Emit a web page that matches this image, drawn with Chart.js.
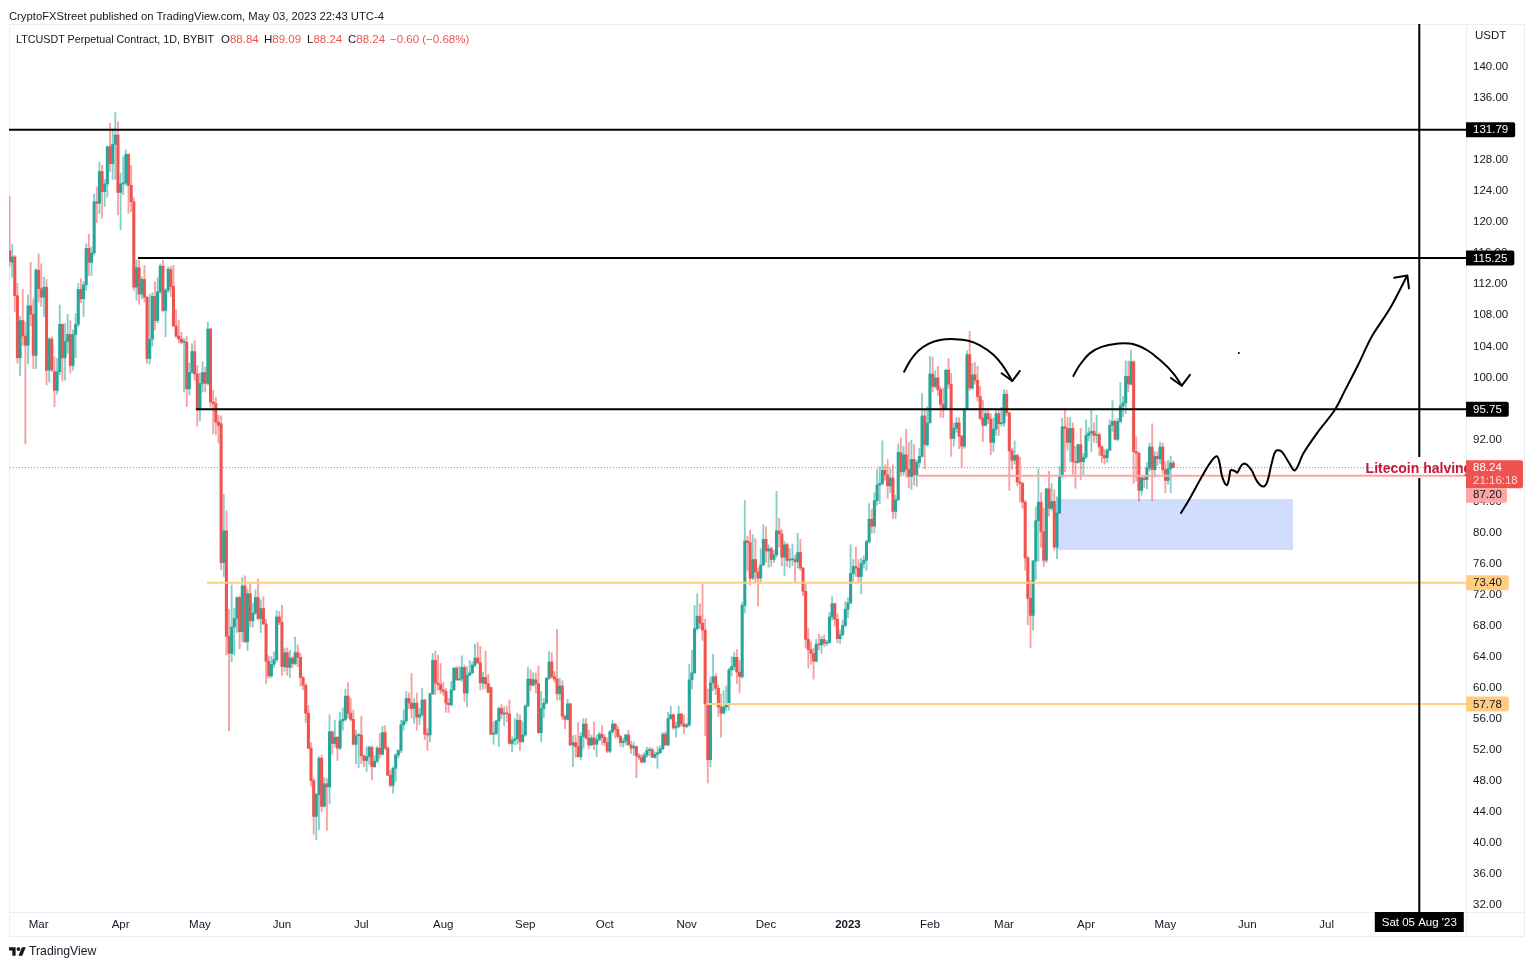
<!DOCTYPE html>
<html>
<head>
<meta charset="utf-8">
<title>LTCUSDT Perpetual Contract</title>
<script src="https://cdn.jsdelivr.net/npm/chart.js@4"></script>
<style>
    html, body { margin: 0; background: #fff; }
    body { width: 1536px; height: 967px; position: relative; overflow: hidden; font-family: "Liberation Sans", sans-serif; color: #131722; }
    canvas { position: absolute; left: 0; top: 0; }
    .txt { position: absolute; font-size: 11.5px; line-height: 14px; white-space: nowrap; }
    .red { color: #ef5350; }
</style>
</head>
<body>
<canvas id="chart-ltc" width="1536" height="967"></canvas>
<div class="txt" style="left:9px;top:9px;font-size:11.25px">CryptoFXStreet published on TradingView.com, May 03, 2023 22:43 UTC-4</div>
<div class="txt" style="left:16px;top:32px;font-size:10.75px">LTCUSDT Perpetual Contract, 1D, BYBIT</div>
<div class="txt" style="left:221px;top:32px">O<span class="red">88.84</span></div>
<div class="txt" style="left:264px;top:32px">H<span class="red">89.09</span></div>
<div class="txt" style="left:307px;top:32px">L<span class="red">88.24</span></div>
<div class="txt" style="left:348px;top:32px">C<span class="red">88.24</span></div>
<div class="txt red" style="left:390px;top:32px">−0.60 (−0.68%)</div>
<svg style="position:absolute;left:9px;top:945px" width="17" height="12" viewBox="0 0 36 24"><path fill="#131722" d="M14 22H7V11H0V4h14v18zM28 22h-8l7.5-18h8L28 22z"/><circle fill="#131722" cx="20" cy="8" r="4"/></svg>
<div class="txt" style="left:29px;top:944px;font-size:12.25px">TradingView</div>
<script>
"use strict"

// daily candles, one value per day from the left edge
var opens = [
    116.2,114.7,115.4,110.4,102.4,107.2,105.2,104,109.1,108,
    102.7,113.7,111.3,110.2,111.5,100.8,104.8,100.6,98.2,100.6,
    106.7,102.4,104.5,105.4,101.4,105.4,106.7,111.2,110,111.8,
    116.5,114.7,115.9,122.5,122.3,126.4,123.8,124.8,129.6,127.4,
    129.9,131.1,123.7,124.8,124.9,128.6,124.6,122.5,111.5,114,
    110.6,112.5,110.2,102.3,104.8,110.3,107.2,110.9,114.2,108.5,
    111.1,113.8,111.6,106.5,105.2,104.8,104.4,104.4,98.4,100.5,
    103.2,100.3,95.7,99.1,100.5,99.1,106.1,96.7,96.5,94.1,
    93.9,76,80.1,66.5,64.3,67.7,68.8,71.5,67.1,73,
    65.8,72,68.5,69.5,71.5,68.8,70.1,68.1,63.3,61.4,
    62.9,63.5,69,68.3,62.6,64.4,62.5,63.7,63,64.4,
    63.8,61.2,60.2,56.6,52.1,47.9,43.3,46.1,50.8,44.6,
    47.5,47.1,54.2,52.7,53.5,52.1,55.6,55.8,58.8,56.6,
    55.8,52.6,53.7,53.8,51.1,50.5,51,52.2,49.7,50.4,
    52.1,51.3,54.1,52.1,48.6,47.3,49.5,51.2,51.8,55.1,
    55.6,58.5,57.9,57.2,57.9,56.1,56.4,58.3,53.9,53.8,
    59.1,63.4,60.5,60.3,59.6,59.4,57.9,57.7,59.6,62.4,
    60.9,61,62.5,59.2,61.5,61.8,62.8,63.7,63.1,60.5,
    61.2,60.4,59.9,53.9,54,55.6,57.2,56.5,56.6,56.5,
    52.7,53.1,53.3,55.7,52.9,53.8,57.5,61,60.2,60.9,
    60.4,54.1,57.2,57.9,61.1,63.2,61.3,61,59.1,60.1,
    56.2,55.8,57.8,52.5,52.8,52.3,51,53.6,55.2,53.4,
    52.5,53.4,52.6,53.2,53.9,53.5,52.8,51.7,54.2,55.2,
    54.5,53.6,52.8,53,53.8,52.5,52.1,52.3,51.1,50.9,
    50.3,51.2,51.8,51.9,50.9,51.3,51.5,52,53.9,52.5,
    55.9,56.4,54.7,54.9,56.5,55.2,54.9,55.1,60.9,61.8,
    67.5,69.1,68.2,67.3,57.8,50.6,60.5,61.3,59.8,57.4,
    56.6,57.4,57.8,62.2,62.6,63.8,61.9,61.3,70.5,78.8,
    78.6,74,76.4,74.8,74,75.7,79,77.5,77.8,76.4,
    77,80.1,79.7,76.7,78.3,76.3,76.4,76.4,76.1,77.3,
    75.3,72.3,66.1,64.8,64.3,63.3,65.5,65.4,66.1,65.6,
    65.7,69,70.7,68.7,66.2,66.7,67.9,70,70.8,74.6,
    75.5,75.3,74.2,75.9,76.3,78.7,81.6,80.7,84,86,
    86.2,87.9,87.3,85.9,86.9,82.6,84.1,90.2,87.7,89.9,
    88,87.1,89.3,87.3,88.9,89.7,94.9,91.2,94,100.3,
    98.7,99.8,98.3,96.4,95.8,100.8,99,92,93.3,94,
    92.3,91,95.8,102.8,98.5,100.2,99.5,97.4,94.6,93.7,
    95.2,94.5,91.5,93.2,95.2,93.9,94,97.7,95.3,90.4,
    89.2,89.8,86.4,86.2,83.8,76.6,71.4,69.2,76.2,81.4,
    83.8,80,76.3,85.5,83,83.9,78,82.4,87.1,93.5,
    93.3,91.5,93.3,89,88.9,91.2,89,89.6,92.4,92.7,
    92.9,92.4,92.5,90.9,89.8,89.5,90.5,93.7,94.2,91.9,
    94.2,96.2,96.6,100,99,101.9,90.3,90.1,85.3,86.9,
    86.7,88.2,90.9,88,89.7,89.4,90.9,88,86.6,88.1,
    88.84
]
var highs = [
    123.2,117,115.6,112,107.7,111.2,107,110.5,114.7,110,
    113.9,115.8,114.5,112.8,112.5,105,105.1,102.5,102.3,109.2,
    106.8,106.8,108,107.2,106,108.1,112,112.6,112.2,117.1,
    118.3,116.7,123.5,124.4,127.6,127.2,125.4,129.7,132.6,131.9,
    134,132.8,126.2,128.3,129.2,128.7,127.2,123,115,115,
    112.8,114.3,110.3,110.6,110.8,112.2,112.7,114.5,115,111.3,
    114.1,114.2,114.3,108.6,107.2,105.7,104.9,105.2,101.7,104.2,
    104.6,101.4,100.4,101.9,101.2,107,106.2,98.2,97.3,95,
    94.9,84.8,82.7,70,73.1,70.1,71.6,71.7,74.1,74.3,
    72.6,73.3,70.8,72.5,73.9,71.2,71.6,68.7,64,63.9,
    64.5,69.8,69.7,70.5,65,65,64.7,63.9,66.4,65.4,
    64.3,61.3,60.4,57.6,52.8,48.2,46.3,51,51.2,48.3,
    48.2,56.4,54.3,55.7,53.6,56.7,57.3,59.7,60.5,58.5,
    57,54.4,54,56.2,51.2,52.3,52.4,52.4,51.2,52.3,
    54,54.9,55,52.3,49.3,49.7,51.4,51.9,55.7,57,
    59.4,59.2,61.7,58.5,59.2,57.2,59.8,58.4,54.6,59.2,
    64.3,64.6,64.1,63,60.6,59.8,58.5,60.7,62.5,62.6,
    62.6,64,62.8,62.6,63.4,63.2,65.5,65.7,65.2,61.9,
    64.6,61.6,60,55.5,55.7,57.4,57.7,57.4,57.5,58.3,
    53.6,55.9,56.6,56.4,55.5,57.7,62.5,62.2,61.8,61.8,
    62.7,59.4,58.5,61.2,64.6,64.4,62,67.4,61.1,60.8,
    56.4,58.4,57.9,53.7,53.8,55.4,54.1,55.9,55.9,54.4,
    53.8,55.5,53.8,54.1,55,53.8,53.4,54.4,55.7,55.3,
    54.9,53.8,53.4,53.9,54.4,53,52.9,52.4,51.4,51.3,
    51.5,52.2,52.2,52.1,51.6,52.3,52.4,54.1,54.2,56.7,
    57.5,56.5,55.5,57.5,56.6,56.4,55.3,62.9,64.7,70.5,
    72,70.7,73.2,68.7,59.7,61.3,64.2,61.7,60.2,59.1,
    59.5,60.1,62.4,63.9,64.4,64.8,63.4,70.9,84,79.4,
    80.2,79.6,79.1,75.3,77.8,80.9,80.6,78.3,78,77.6,
    85.2,81.7,80.3,78.7,78.5,77.8,78.4,77,79.8,79,
    75.4,73.5,67.5,65.8,65,66.1,66.8,66.5,66.7,66,
    69.6,71.6,70.8,69.4,67.3,68.6,71,71.5,78.3,76.4,
    78,76.4,76.6,76.9,78.9,83.6,82.9,85,88,88.4,
    91.7,88.6,89.3,88.1,88.6,84.7,91.3,92.1,91,93.2,
    91.5,91.8,91.2,89.2,90.7,97.8,95.8,96.1,102.6,102.5,
    100.7,101.3,98.7,98.5,100.9,102.3,100.4,94,94.7,94.7,
    92.4,95.9,103.3,105.8,101.7,101.8,101.3,98.7,96.9,95.9,
    95.9,95.2,94.6,95.7,95.7,96,98.3,98.2,95.4,90.7,
    91.7,90,89.6,86.4,84,76.8,73.7,76.3,83.2,88.1,
    85,83,85.6,87.8,86.2,85.4,84.5,88.4,94.6,95.9,
    94.7,94.7,94,91,91.3,93.3,90.1,94.4,93.4,95.7,
    94,95,92.7,91.1,90.6,90.7,94.4,96.9,94.4,94.6,
    99.2,97.4,102,102,103.4,102,92.2,90.2,87.1,87.1,
    88.9,91.4,93.9,90.3,90.3,91.5,91.4,89,89.2,89.7,
    89.09
]
var lows = [
    114.1,112.8,108.3,101.7,100.1,104,91.3,101.6,106.5,101,
    101,109.6,109,107.7,98.9,99.3,100.6,96.1,97.7,100.2,
    99.4,99.5,103,100.4,100.8,102.4,106.4,109.5,107.7,111.1,
    113,113,115.6,119.8,121,120.4,121.9,123.1,126.4,125.4,
    125.4,120.8,118.9,123.4,124.6,121,121.2,111.1,109.8,109.3,
    110,109.6,101.7,101.6,103.9,106,106.9,110.7,108.3,105.1,
    110.8,110.3,106.4,105,104.3,104.2,98,96.1,97.6,100.4,
    99.5,93.6,94.3,98,98,98.9,96,92.6,92.5,91.4,
    75.1,74.2,64.1,54.3,63.2,64.1,67,64.9,65.8,65.7,
    64.7,67.7,67.7,69.3,68.6,67,68,60.4,61.1,61.2,
    62.5,63.2,68,61.5,62,61.5,61.2,62.5,62.8,62.6,
    60.1,59.6,55.4,52,47.2,41,40.3,41.6,43.9,44.5,
    41.5,44.9,51.3,52.2,50.5,51.9,54.4,55.6,56,55.6,
    52.5,50.1,49.6,50.1,49.7,49.1,50,48,49.6,50.2,
    50.8,51.2,51.9,48.6,47.1,46.3,47.8,50.8,51.5,54.4,
    55.3,57.2,56,55.3,54.4,55.1,56.2,53.2,51.8,52.9,
    59,59,59.6,59.1,58.9,56.7,56.7,57.5,59.5,60.8,
    60.8,60.7,58.1,57.4,61.4,61.7,62.6,63,59.6,59.7,
    59.8,59.2,53.8,52.6,53.8,52.3,55.9,55,55.5,52.6,
    51.6,52.5,52.6,51.8,52.9,53.6,57.4,59.5,60.1,59.2,
    54,52.9,56,57.8,60.9,61.1,60.6,58.3,58.3,55.8,
    54.6,55.7,52.4,49.7,50.9,50.9,50.6,52.1,53.2,52,
    52.4,51.9,51,53,52.5,52.4,51.5,51.5,54,53.4,
    53.4,52.3,52.2,52.5,52.5,51.4,51.2,48.3,50.6,50.2,
    50.2,50.9,51.1,50.9,50.8,49.5,51.4,51.9,52.4,52.4,
    55.8,54.5,53.5,54.7,54.9,54,54.7,54.9,59.7,61.7,
    67.3,67.5,66,53.7,47.6,49.7,59.5,59,56.2,53.5,
    56.5,56.9,57,61.4,62.1,60.4,59.2,61.1,69.5,75,
    73.1,73.8,73.5,70.4,73.4,75.6,76,75.4,75.5,76,
    76.7,78,75.6,74.3,75.5,75.3,75.6,73.5,75.3,75,
    71.7,65,62.4,62.9,61,63.2,64.7,64.3,65.2,65.3,
    65.6,68.6,67.8,65.7,65.6,66.6,67.7,68.9,70.7,73.5,
    74.2,73.5,72,75.3,75,78.5,79.8,79.8,83.4,83.6,
    86,86.6,84.3,85,81.7,81.7,84,87.1,87.2,87,
    85.7,85.4,86,85.8,88.4,89.6,88.1,91,94,98,
    98.5,97.5,94.7,94.7,95.7,98.5,89.7,91,92.8,90.7,
    88.3,90.7,95.7,98.2,98.3,99,96.8,94.4,91.6,93.6,
    93.9,89.9,90.3,92.4,92.4,93.6,93.6,94.9,85.3,88,
    88.7,85.9,83.8,83,75,68,65,67.3,73.8,76.2,
    78,75.5,76,82,82.7,77.6,76.5,82.3,87,87.7,
    90.5,89,87.4,85.6,88.8,86.7,87.3,89.4,91.7,90.3,
    91.5,91.4,89.8,88.9,88.7,88.9,90.4,92.9,91.8,91.7,
    94,94.8,95.2,98,98.9,86.2,86.5,83.9,84.7,85.7,
    85.5,87.8,84,87,88.5,88.8,87.5,85,86.1,85,
    88.24
]
var closes = [
    114.8,115.4,110.4,102.4,107.2,105.2,104,109.1,108,102.7,
    113.7,111.3,110.2,111.5,100.8,104.8,100.8,98.2,100.6,106.7,
    102.4,104.5,105.4,101.4,105.4,106.7,111.2,110,111.8,116.5,
    114.7,115.9,122.5,122.3,126.4,123.8,124.8,129.6,127.4,129.9,
    131.1,123.7,124.8,124.9,128.6,124.6,122.5,111.5,114,110.6,
    112.5,110.2,102.3,104.8,110.3,107.2,110.9,114.2,108.5,111.1,
    113.8,111.6,106.5,105.2,104.8,104.4,104.4,98.4,100.5,103.2,
    100.3,95.7,99.1,100.5,99.1,106.1,96.7,96.5,94.1,93.7,
    76,80.1,66.5,64.3,67.7,68.8,71.5,67.1,73,65.8,
    72,68.5,69.5,71.5,68.8,70.1,68.1,63.3,61.4,62.9,
    63.5,69,68.3,62.6,64.4,62.5,63.7,63,64.4,63.8,
    61.2,60.2,56.6,52.1,47.9,43.3,46.1,50.8,44.6,47.5,
    47.1,54.2,52.7,53.5,52.1,55.6,55.8,58.8,56.6,55.8,
    52.6,53.7,53.8,51.1,50.5,51,52.2,49.7,50.4,52.1,
    51.3,54.1,52.1,48.6,47.3,49.5,51.2,51.8,55.1,55.6,
    58.5,57.9,57.2,57.9,56.1,56.4,58.3,53.9,53.8,59.1,
    63.4,60.5,60.3,59.6,59.4,57.9,57.7,59.6,62.4,60.9,
    61,62.5,59.2,61.5,61.8,62.8,63.7,63.1,60.5,61.2,
    60.4,59.3,53.9,54,55.6,57.2,56.5,56.6,56.5,52.7,
    53.1,53.3,55.7,52.9,53.8,57.5,61,60.2,60.9,60.4,
    54.1,57.2,57.9,61.1,63.2,61.3,61,59.1,60.1,56.2,
    55.8,57.8,52.5,52.8,52.3,51,53.6,55.2,53.4,52.5,
    53.4,52.6,53.2,53.9,53.5,52.8,51.7,54.2,55.2,54.5,
    53.6,52.8,53,53.8,52.5,52.1,52.3,51.1,50.9,50.3,
    51.2,51.8,51.9,50.9,51.3,51.5,52,53.9,52.5,55.9,
    56.4,54.7,54.9,56.5,55.2,54.9,55.1,60.9,61.8,67.5,
    69.1,68.2,67.3,57.8,50.6,60.5,61.3,59.8,57.4,56.6,
    57.4,57.8,62.2,62.6,63.8,61.9,61.3,70.5,78.8,78.6,
    74,76.4,74.8,74,75.7,79,77.5,77.8,76.4,77,
    80.1,79.7,76.7,78.3,76.3,76.4,76.4,76.1,77.3,75.3,
    72.3,66.1,64.8,64.3,63.3,65.5,65.4,66.1,65.6,65.7,
    69,70.7,68.7,66.2,66.7,67.9,70,70.8,74.6,75.5,
    75.3,74.2,75.9,76.3,78.7,81.6,80.7,84,86,86.2,
    87.9,87.3,85.9,86.9,82.6,84.1,90.2,87.7,89.9,88,
    87.1,89.3,87.3,88.9,89.7,94.9,91.2,94,100.3,98.7,
    99.8,98.3,96.4,95.8,100.8,99,92,93.3,94,92.3,
    91,95.8,102.8,98.5,100.2,99.5,97.4,94.6,93.7,95.2,
    94.5,91.5,93.2,95.2,93.9,94,97.7,95.3,90.4,89.2,
    89.8,86.4,86.2,83.8,76.6,71.4,69.2,76.2,81.4,83.8,
    80,76.3,85.5,83,83.9,78,82.4,87.1,93.5,93.3,
    91.5,93.3,89,88.9,91.2,89,89.6,92.4,92.7,92.9,
    92.4,92.5,90.9,89.8,89.5,90.5,93.7,94.2,91.9,94.2,
    96.2,96.6,100,99,101.9,90.3,90.1,85.3,86.9,86.7,
    88.2,90.9,88,89.7,89.4,90.9,88,86.6,88.1,88.84,
    88.24
]

var tickDays = [11, 42, 72, 103, 133, 164, 195, 225, 256, 286, 317, 348, 376, 407, 437, 468, 498]
var tickLabels = ['Mar', 'Apr', 'May', 'Jun', 'Jul', 'Aug', 'Sep', 'Oct', 'Nov', 'Dec', '2023', 'Feb', 'Mar', 'Apr', 'May', 'Jun', 'Jul']
var priceTicks = [32, 36, 40, 44, 48, 52, 56, 60, 64, 68, 72, 76, 80, 84, 88, 92, 96, 100, 104, 108, 112, 116, 120, 124, 128, 132, 136, 140]

// the levels drawn on the chart: from which day, at which price
var blackDays = [-1, 48.6, 70.5]
var blackPrices = [131.79, 115.25, 95.75]
var orangeDays = [74.7, 263.3]
var orangePrices = [73.4, 57.78]
var supportDay = 343
var supportPrice = 87.2
var lastPrice = 88.24
var crosshairDay = 533
var zoneDays = [396, 485.3]
var zoneTop = 84.2
var zoneBottom = 77.63

// pen strokes, in days and prices
var arcOneDays = [338.2, 340.5, 343.6, 347.4, 351.8, 357.5, 362.5, 366.9, 372, 375.7, 379.1]
var arcOnePrices = [100.6, 102, 103.3, 104.2, 104.7, 104.8, 104.6, 104, 102.8, 101.3, 99.4]
var headOneDays = [375.1, 379.1, 382]
var headOnePrices = [100.4, 99.4, 100.7]
var arcTwoDays = [402.2, 404.7, 408.5, 412.9, 418.6, 424.3, 430, 435, 440, 443.2]
var arcTwoPrices = [100.05, 101.5, 103, 103.8, 104.2, 104.2, 103.4, 102.1, 100.4, 98.8]
var headTwoDays = [439.1, 443.2, 446.3]
var headTwoPrices = [99.8, 98.8, 100.2]
var pathDays = [442.9, 446.3, 450, 453.8, 456.4, 457.4, 458.3, 459.5, 460.4, 461.2, 461.7, 463.3, 464.2, 465.9, 467.5, 469.6, 471.8, 474, 475.5, 477.2, 478.8, 481, 483.5, 486, 489.2, 494.8, 501.1, 504.9, 509.9, 515, 522, 528.2]
var pathPrices = [82.4, 84.3, 86.6, 88.8, 89.7, 89, 87.3, 86.2, 86, 87.1, 87.9, 87.8, 87.6, 88.6, 88.7, 87.9, 86.4, 85.8, 86.4, 88.8, 90.4, 90.3, 89, 87.9, 90.1, 92.9, 95.7, 98.2, 101.5, 105.1, 108.8, 112.85]
var pathHeadDays = [523.5, 528.5, 529.1]
var pathHeadPrices = [112.7, 113, 111.35]
var dotDay = 464.8
var dotPrice = 103

var UP = '#26a69a'
var DOWN = '#ef5350'
var dayMin = -0.19
var dayMax = 550.66
var priceMin = 30.98
var priceMax = 145.41

function pairs(days, prices) {
    return days.map(function (d, i) { return { x: d, y: prices[i] } })
}

function level(day, price, color, width, dash) {
    return {
        type: 'line',
        data: [{ x: day, y: price }, { x: dayMax, y: price }],
        borderColor: color,
        borderWidth: width,
        borderDash: dash || [],
        pointRadius: 0,
        order: 4
    }
}

function stroke(days, prices, tension) {
    return {
        type: 'line',
        data: pairs(days, prices),
        borderColor: '#000',
        borderWidth: 2,
        tension: tension,
        borderCapStyle: 'round',
        borderJoinStyle: 'round',
        pointRadius: 0,
        order: 1
    }
}

var candleColors = closes.map(function (c, i) { return c >= opens[i] ? UP : DOWN })
var wickColors = closes.map(function (c, i) { return c >= opens[i] ? 'rgba(38,166,154,0.55)' : 'rgba(239,83,80,0.55)' })

var datasets = [
    {
        type: 'bar',
        data: highs.map(function (h, i) { return { x: i, y: [lows[i], h] } }),
        backgroundColor: wickColors,
        barThickness: 1.2,
        grouped: false,
        order: 10
    },
    {
        type: 'bar',
        data: opens.map(function (o, i) { return { x: i, y: [o, closes[i]] } }),
        backgroundColor: candleColors,
        barThickness: 2.4,
        minBarLength: 1,
        grouped: false,
        order: 9
    },
    {
        type: 'line',
        data: pairs(zoneDays, [zoneTop, zoneTop]),
        borderWidth: 0,
        pointRadius: 0,
        backgroundColor: 'rgba(41,98,255,0.22)',
        fill: { value: zoneBottom },
        order: 5
    },
    level(-1, lastPrice, '#ef5350', 1, [1, 2]),
    level(supportDay, supportPrice, '#ffa5a3', 2),
    {
        // the halving label interrupts this line
        type: 'line',
        data: [{ x: crosshairDay, y: priceMax }, { x: crosshairDay, y: 89.6 }, { x: crosshairDay, y: null }, { x: crosshairDay, y: 86.9 }, { x: crosshairDay, y: priceMin }],
        borderColor: '#000',
        borderWidth: 2,
        pointRadius: 0,
        order: 3
    },
    stroke(arcOneDays, arcOnePrices, 0.4),
    stroke(headOneDays, headOnePrices, 0),
    stroke(arcTwoDays, arcTwoPrices, 0.4),
    stroke(headTwoDays, headTwoPrices, 0),
    stroke(pathDays, pathPrices, 0.35),
    stroke(pathHeadDays, pathHeadPrices, 0),
    {
        type: 'line',
        data: [{ x: dotDay, y: dotPrice }],
        pointRadius: 1,
        pointBackgroundColor: '#000',
        borderWidth: 0,
        order: 1
    }
]
blackDays.forEach(function (d, i) { datasets.push(level(d, blackPrices[i], '#000', 2)) })
orangeDays.forEach(function (d, i) { datasets.push(level(d, orangePrices[i], '#ffcc80', 2)) })

function tag(ctx, x, y, w, h, bg) {
    ctx.fillStyle = bg
    ctx.beginPath()
    ctx.roundRect(x, y, w, h, [0, 2, 2, 0])
    ctx.fill()
}

// frame, price tags, the time tag and the text label
var tradingViewLook = {
    id: 'tradingViewLook',
    beforeDraw: function (chart) {
        var a = chart.chartArea
        var ctx = chart.ctx
        ctx.save()
        ctx.strokeStyle = '#eceef3'
        ctx.lineWidth = 1
        ctx.strokeRect(a.left + 0.5, a.top + 0.5, 1524 - a.left, 936 - a.top)
        ctx.beginPath()
        ctx.moveTo(a.right + 0.5, a.top)
        ctx.lineTo(a.right + 0.5, 936)
        ctx.moveTo(a.left, a.bottom + 0.5)
        ctx.lineTo(1524, a.bottom + 0.5)
        ctx.stroke()
        ctx.restore()
    },
    afterDraw: function (chart) {
        var a = chart.chartArea
        var ctx = chart.ctx
        var xs = chart.scales.x
        var ys = chart.scales.y
        var textX = a.right + 7
        ctx.save()
        ctx.font = '11.5px "Liberation Sans"'
        ctx.textBaseline = 'middle'

        ctx.fillStyle = '#131722'
        ctx.fillText('USDT', textX + 2, 36)

        function priceTag(price, bg, fg) {
            var label = price.toFixed(2)
            var y = ys.getPixelForValue(price)
            tag(ctx, a.right, y - 7.5, ctx.measureText(label).width + 14, 15, bg)
            ctx.fillStyle = fg
            ctx.fillText(label, textX, y + 0.5)
        }
        priceTag(blackPrices[0], '#000', '#fff')
        priceTag(blackPrices[1], '#000', '#fff')
        priceTag(blackPrices[2], '#000', '#fff')
        priceTag(orangePrices[0], '#ffcc80', '#131722')
        priceTag(orangePrices[1], '#ffcc80', '#131722')

        var lastY = ys.getPixelForValue(lastPrice)
        tag(ctx, a.right, lastY - 7.5, 57, 28, DOWN)
        ctx.fillStyle = '#fff'
        ctx.fillText(lastPrice.toFixed(2), textX, lastY)
        ctx.fillStyle = '#ffd6d5'
        ctx.fillText('21:16:18', textX, lastY + 13)
        tag(ctx, a.right, lastY + 20.5, 41, 14.5, '#ffa5a3')
        ctx.fillStyle = '#131722'
        ctx.fillText(supportPrice.toFixed(2), textX, lastY + 27.5)

        var crossX = xs.getPixelForValue(crosshairDay)
        var crossLabel = "Sat 05 Aug '23"
        ctx.fillStyle = '#000'
        ctx.fillRect(crossX - 44.5, a.bottom, 89, 20)
        ctx.fillStyle = '#fff'
        ctx.textAlign = 'center'
        ctx.fillText(crossLabel, crossX, a.bottom + 10.5)
        ctx.textAlign = 'left'

        ctx.beginPath()
        ctx.rect(a.left, a.top, a.right - a.left, a.bottom - a.top)
        ctx.clip()
        ctx.font = 'bold 14px "Liberation Sans"'
        ctx.fillStyle = '#c2193a'
        ctx.textBaseline = 'alphabetic'
        ctx.fillText('Litecoin halving', xs.getPixelForValue(512.7), ys.getPixelForValue(lastPrice) + 5.5)
        ctx.restore()
    }
}

var chartLtc = new Chart(document.getElementById('chart-ltc').getContext('2d'), {
    type: 'bar',
    data: { datasets: datasets },
    plugins: [tradingViewLook],
    options: {
        responsive: false,
        animation: false,
        devicePixelRatio: 1,
        layout: { autoPadding: false, padding: { left: 9, top: 24, right: 12, bottom: 31 } },
        plugins: { legend: { display: false }, tooltip: { enabled: false } },
        scales: {
            x: {
                type: 'linear',
                offset: false,
                min: dayMin,
                max: dayMax,
                grid: { display: false, drawTicks: false },
                border: { display: false },
                afterBuildTicks: function (scale) {
                    scale.ticks = tickDays.map(function (d) { return { value: d } })
                },
                afterFit: function (scale) { scale.height = 24 },
                ticks: {
                    autoSkip: false,
                    maxRotation: 0,
                    padding: 6,
                    color: '#131722',
                    font: function (c) {
                        var bold = c.tick && c.tick.label === '2023'
                        return { family: '"Liberation Sans"', size: 11.5, weight: bold ? 'bold' : 'normal' }
                    },
                    callback: function (value) { return tickLabels[tickDays.indexOf(value)] }
                }
            },
            y: {
                type: 'linear',
                position: 'right',
                min: priceMin,
                max: priceMax,
                grid: { display: false, drawTicks: false },
                border: { display: false },
                afterBuildTicks: function (scale) {
                    scale.ticks = priceTicks.map(function (p) { return { value: p } })
                },
                afterFit: function (scale) { scale.width = 58 },
                ticks: {
                    autoSkip: false,
                    padding: 7,
                    labelOffset: 1,
                    color: '#131722',
                    font: { family: '"Liberation Sans"', size: 11.5 },
                    callback: function (value) { return value.toFixed(2) }
                }
            }
        }
    }
})
</script>
</body>
</html>
